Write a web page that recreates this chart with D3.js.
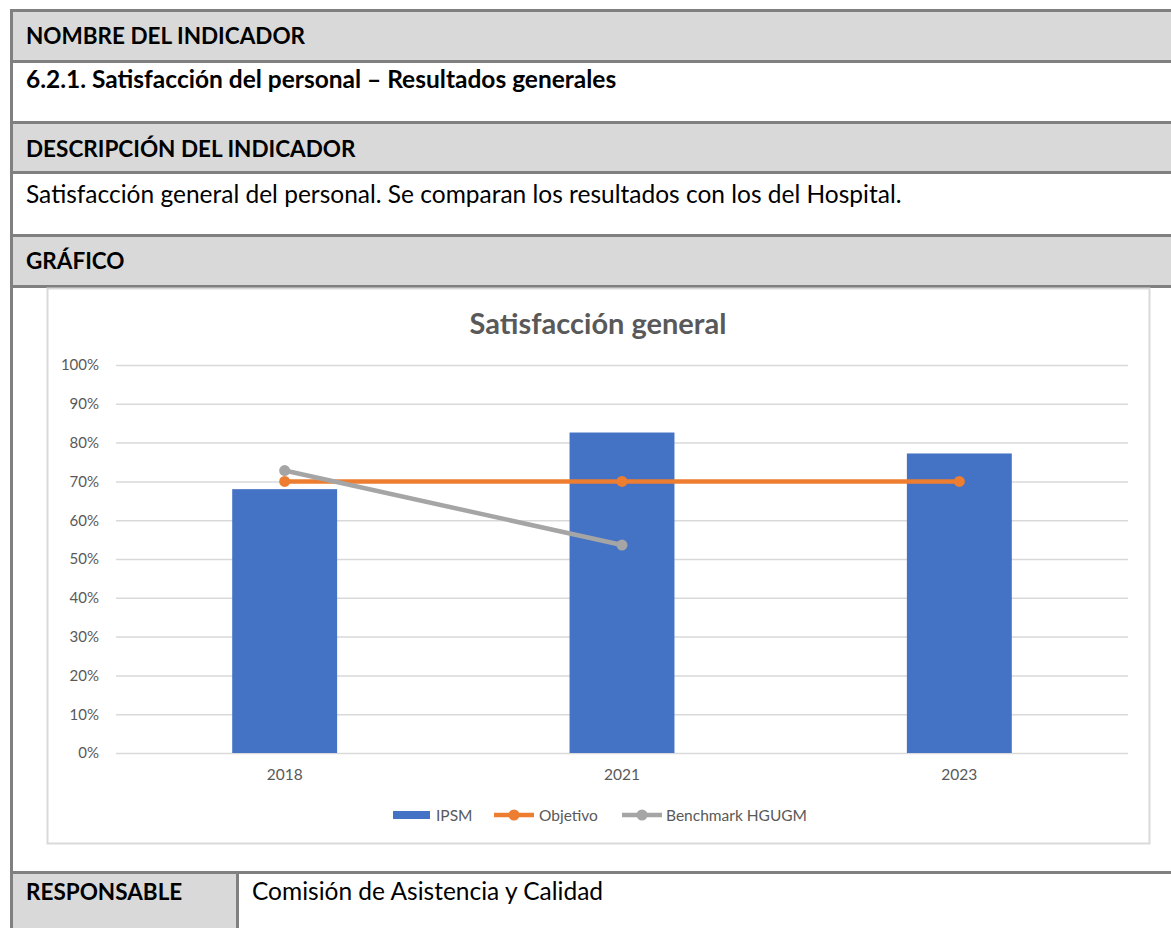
<!DOCTYPE html>
<html>
<head>
<meta charset="utf-8">
<script src="https://cdn.jsdelivr.net/npm/d3@7"></script>
<style>
  body { margin: 0; background: #fff; }
  text { font-family: Lato, "Open Sans", sans-serif; }
</style>
</head>
<body>
<div class="chart"></div>
<script>
// chart data
var years = ["2018", "2021", "2023"];
var ipsm = [0.68, 0.826, 0.772];
var objetivo = [0.70, 0.70, 0.70];
var benchmark = [0.728, 0.536, null];
var yTicks = [0, 0.1, 0.2, 0.3, 0.4, 0.5, 0.6, 0.7, 0.8, 0.9, 1];
var legendNames = ["IPSM", "Objetivo", "Benchmark HGUGM"];

var svgWidth = 1171, svgHeight = 928;
var border = "#808080", headBg = "#d9d9d9";

var svg = d3.select(".chart")
  .append("svg")
  .attr("width", svgWidth)
  .attr("height", svgHeight);

// table rows: header cells are grey, content cells white
var rows = [
  { y0: 10, y1: 61, bg: headBg, text: "NOMBRE DEL INDICADOR", bold: true, base: 44, size: 22.5 },
  { y0: 61, y1: 122, bg: "#fff", text: "6.2.1. Satisfacción del personal – Resultados generales", bold: true, base: 88, size: 24.5 },
  { y0: 122, y1: 172, bg: headBg, text: "DESCRIPCIÓN DEL INDICADOR", bold: true, base: 157, size: 22.5 },
  { y0: 172, y1: 235, bg: "#fff", text: "Satisfacción general del personal. Se comparan los resultados con los del Hospital.", bold: false, base: 203, size: 24.5 },
  { y0: 235, y1: 286, bg: headBg, text: "GRÁFICO", bold: true, base: 269, size: 22.5 }
];

rows.forEach(function (r) {
  svg.append("rect")
    .attr("x", 11).attr("y", r.y0)
    .attr("width", svgWidth).attr("height", r.y1 - r.y0)
    .attr("fill", r.bg);
  svg.append("text")
    .attr("x", 26).attr("y", r.base)
    .style("font-size", r.size + "px")
    .style("font-weight", r.bold ? "bold" : "normal")
    .style("fill", "#000")
    .text(r.text);
});

// responsable row
svg.append("rect").attr("x", 11).attr("y", 873).attr("width", 226).attr("height", 60).attr("fill", headBg);
svg.append("text").attr("x", 26).attr("y", 900)
  .style("font-size", "22.5px").style("font-weight", "bold").text("RESPONSABLE");
svg.append("text").attr("x", 252).attr("y", 900)
  .style("font-size", "24.5px").text("Comisión de Asistencia y Calidad");

// grid lines of the table
[10.5, 61.5, 122.5, 172.5, 235.5, 286.5, 872.5].forEach(function (y) {
  svg.append("line")
    .attr("x1", 10).attr("x2", svgWidth)
    .attr("y1", y).attr("y2", y)
    .attr("stroke", border).attr("stroke-width", 3);
});
svg.append("line").attr("x1", 11.5).attr("x2", 11.5).attr("y1", 9).attr("y2", svgHeight)
  .attr("stroke", border).attr("stroke-width", 3);
svg.append("line").attr("x1", 237.5).attr("x2", 237.5).attr("y1", 872).attr("y2", svgHeight)
  .attr("stroke", border).attr("stroke-width", 3);

// chart area box
svg.append("rect")
  .attr("x", 47.5).attr("y", 288.5)
  .attr("width", 1102).attr("height", 555)
  .attr("fill", "#fff")
  .attr("stroke", "#d9d9d9").attr("stroke-width", 2);

svg.append("text")
  .attr("x", 598).attr("y", 334)
  .style("text-anchor", "middle")
  .style("font-size", "29px")
  .style("font-weight", "bold")
  .style("fill", "#595959")
  .text("Satisfacción general");

// scales
var xScale = d3.scaleBand().domain(years).range([116, 1128]);
var yScale = d3.scaleLinear().domain([0, 1]).range([753, 365]);

var leftAxis = d3.axisLeft(yScale)
  .tickValues(yTicks)
  .tickFormat(d3.format(".0%"))
  .tickSize(-(1128 - 116))
  .tickPadding(17);

var yAxis = svg.append("g")
  .attr("transform", "translate(116,0)")
  .call(leftAxis);
yAxis.select(".domain").remove();
yAxis.selectAll("line").attr("stroke", "#d9d9d9").attr("stroke-width", 1.5);
yAxis.selectAll("text")
  .style("font-family", "Lato, sans-serif")
  .style("font-size", "15px")
  .style("fill", "#595959");

var bottomAxis = d3.axisBottom(xScale).tickSize(0).tickPadding(16);
var xAxis = svg.append("g")
  .attr("transform", "translate(0,753)")
  .call(bottomAxis);
xAxis.select(".domain").remove();
xAxis.selectAll("text")
  .style("font-family", "Lato, sans-serif")
  .style("font-size", "15.5px")
  .style("fill", "#595959");

// bars
var barW = xScale.bandwidth() * 0.311;
svg.selectAll(".bar")
  .data(ipsm)
  .enter()
  .append("rect")
  .attr("class", "bar")
  .attr("x", (d, i) => xScale(years[i]) + xScale.bandwidth() / 2 - barW / 2)
  .attr("y", d => yScale(d))
  .attr("width", barW)
  .attr("height", d => yScale(0) - yScale(d))
  .attr("fill", "#4472c4");

// lines
function drawSeries(values, color) {
  var pts = values.map((v, i) => ({ x: years[i], v: v })).filter(d => d.v !== null);
  var line = d3.line()
    .x(d => xScale(d.x) + xScale.bandwidth() / 2)
    .y(d => yScale(d.v));
  svg.append("path")
    .datum(pts)
    .attr("d", line)
    .attr("fill", "none")
    .attr("stroke", color)
    .attr("stroke-width", 4.5)
    .attr("stroke-linecap", "round");
  svg.selectAll(null)
    .data(pts)
    .enter()
    .append("circle")
    .attr("cx", d => xScale(d.x) + xScale.bandwidth() / 2)
    .attr("cy", d => yScale(d.v))
    .attr("r", 5.5)
    .attr("fill", color);
}
drawSeries(objetivo, "#ed7d31");
drawSeries(benchmark, "#a5a5a5");

// legend
var legend = svg.append("g").attr("transform", "translate(0,815)");
legend.append("rect").attr("x", 393).attr("y", -4).attr("width", 37).attr("height", 8).attr("fill", "#4472c4");
[{ x: 494, c: "#ed7d31" }, { x: 622, c: "#a5a5a5" }].forEach(function (m) {
  legend.append("line").attr("x1", m.x).attr("x2", m.x + 40).attr("y1", 0).attr("y2", 0)
    .attr("stroke", m.c).attr("stroke-width", 4.5);
  legend.append("circle").attr("cx", m.x + 20).attr("cy", 0).attr("r", 5.5).attr("fill", m.c);
});
var legendX = [436, 539, 666];
legend.selectAll(".lt")
  .data(legendNames)
  .enter()
  .append("text")
  .attr("x", (d, i) => legendX[i])
  .attr("y", 5.5)
  .style("font-size", "15.5px")
  .style("fill", "#595959")
  .text(d => d);
</script>
</body>
</html>
